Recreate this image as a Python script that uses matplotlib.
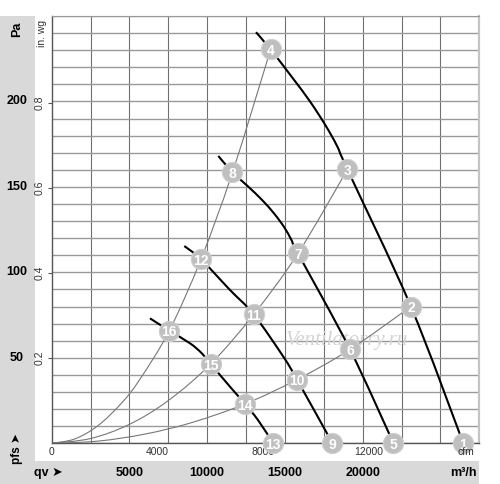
import matplotlib
matplotlib.use('Agg')
import matplotlib.pyplot as plt
from matplotlib.patches import Rectangle, PathPatch
from matplotlib.path import Path
from matplotlib.ticker import MultipleLocator
from matplotlib.transforms import blended_transform_factory

plt.rcParams['font.family'] = ['Liberation Sans', 'DejaVu Sans']

M3H_PER_CFM = 1.699
PA_PER_INWG = 249.09

# fan curves, one per speed (qv in m3/h, pfs in Pa)
fan1_q = [13140, 14080, 15537, 16611, 17576, 18348, 19020, 23100, 26470]
fan1_p = [240.5, 230.4, 213.2, 200.0, 186.5, 174.0, 160.2, 80.0, 0]

fan2_q = [10714, 11627, 12624, 13524, 14296, 14939, 15422, 15840, 19184, 21981]
fan2_p = [168.1, 158.6, 150.3, 142.4, 134.5, 126.6, 118.9, 111.1, 54.9, 0]

fan3_q = [8527, 9601, 11466, 12991, 14894, 15775, 18058]
fan3_p = [115.4, 107.7, 89.7, 75.4, 50.7, 37.3, 0]

fan4_q = [6322, 7563, 8894, 9647, 10225, 11467, 12432, 13267, 14251]
fan4_p = [73.1, 65.9, 58.5, 52.7, 46.4, 33.1, 23.0, 13.6, 0]

# system curves through the origin
sys1_q = [0, 1500, 3000, 4500, 5660, 7563, 9600, 11630, 14080]
sys1_p = [0, 2.6, 10.5, 23.6, 37.3, 65.9, 107.7, 158.6, 230.4]

sys2_q = [0, 2500, 5000, 7500, 10225, 12990, 15840, 19020]
sys2_p = [0, 2.8, 11.1, 25.0, 46.4, 75.4, 111.1, 160.2]

sys3_q = [0, 3000, 6000, 9000, 12430, 15780, 19180, 23100]
sys3_p = [0, 1.3, 5.4, 12.1, 23.0, 37.3, 54.9, 80.0]

# numbered operating points
point_q = [26470, 23100, 19020, 14080, 21981, 19184, 15840, 11627,
           18058, 15775, 12991, 9601, 14251, 12432, 10225, 7563]
point_p = [0, 80.0, 160.2, 230.4, 0, 54.9, 111.1, 158.6,
           0, 37.3, 75.4, 107.7, 0, 23.0, 46.4, 65.9]

pa_ticks = [50, 100, 150, 200]
m3h_ticks = [5000, 10000, 15000, 20000]
inwg_ticks = [0.2, 0.4, 0.6, 0.8]
cfm_ticks = [0, 4000, 8000, 12000]


def smooth_line(ax, q, p, **kw):
    # Catmull-Rom through the read points, drawn as cubic Bezier segments
    verts = [(q[0], p[0])]
    codes = [Path.MOVETO]
    n = len(q)
    for i in range(n - 1):
        qa, pa = (q[i - 1], p[i - 1]) if i > 0 else (q[i], p[i])
        qd, pd = (q[i + 2], p[i + 2]) if i + 2 < n else (q[i + 1], p[i + 1])
        c1 = (q[i] + (q[i + 1] - qa) / 6, p[i] + (p[i + 1] - pa) / 6)
        c2 = (q[i + 1] - (qd - q[i]) / 6, p[i + 1] - (pd - p[i]) / 6)
        verts += [c1, c2, (q[i + 1], p[i + 1])]
        codes += [Path.CURVE4] * 3
    ax.add_patch(PathPatch(Path(verts, codes), fill=False, **kw))


fig = plt.figure(figsize=(5, 4.84), dpi=100)
fig.patches.append(Rectangle((0, 0), 0.07, 0.967, transform=fig.transFigure,
                             facecolor='#d9d9d9', edgecolor='none', zorder=-1))
fig.patches.append(Rectangle((0, 0), 0.9586, 0.0475, transform=fig.transFigure,
                             facecolor='#d9d9d9', edgecolor='none', zorder=-1))

ax = fig.add_axes([0.1034, 0.0841, 0.8552, 0.8829])
ax.set_xlim(0, 27500)
ax.set_ylim(0, 250)

# grid
ax.xaxis.set_minor_locator(MultipleLocator(2500))
ax.yaxis.set_minor_locator(MultipleLocator(10))
ax.xaxis.grid(True, which='minor', color='#707070', lw=0.8)
ax.yaxis.grid(True, which='minor', color='#999999', lw=1.0)
ax.tick_params(which='minor', length=0)
ax.set_axisbelow(True)

for s in ['left', 'bottom']:
    ax.spines[s].set_color('#555555')
    ax.spines[s].set_linewidth(1.0)
ax.spines['top'].set_color('#999999')
ax.spines['right'].set_color('#c4c4c4')
ax.spines['right'].set_linewidth(1.6)

# secondary units as the axis ticks
ax.set_xticks([c * M3H_PER_CFM for c in cfm_ticks])
ax.set_xticklabels([str(c) for c in cfm_ticks])
ax.set_yticks([w * PA_PER_INWG for w in inwg_ticks])
ax.set_yticklabels([str(w) for w in inwg_ticks], rotation=90, va='center')
ax.tick_params(axis='x', length=0, pad=3, labelsize=7.5, labelcolor='#333333')
ax.tick_params(axis='y', length=3, pad=2, labelsize=7.5, labelcolor='#333333', color='#555555')

# system curves
for q, p in [(sys1_q, sys1_p), (sys2_q, sys2_p), (sys3_q, sys3_p)]:
    smooth_line(ax, q, p, edgecolor='#777777', lw=0.8, zorder=3)

# fan curves
for q, p in [(fan1_q, fan1_p), (fan2_q, fan2_p), (fan3_q, fan3_p), (fan4_q, fan4_p)]:
    smooth_line(ax, q, p, edgecolor='black', lw=1.5, zorder=4)

# watermark
ax.text(18990, 59.9, 'Ventilatorry.ru', family='Liberation Serif', style='italic',
        fontsize=15, color='#d4d4d4', ha='center', va='center', zorder=2)

# numbered markers
ax.plot(point_q, point_p, 'o', ms=14.5, mfc='#bfbfbf', mec='#cfcfcf', mew=0.8,
        zorder=6, clip_on=False)
for i, (q, p) in enumerate(zip(point_q, point_p)):
    ax.text(q, p - 1.0, str(i + 1), color='white', fontsize=10, fontweight='bold',
            ha='center', va='center', zorder=7, clip_on=False)

# primary unit labels in the grey bands
ytr = blended_transform_factory(fig.transFigure, ax.transData)
for v in pa_ticks:
    ax.text(17 / 500, v, str(v), transform=ytr, fontsize=9, fontweight='bold',
            ha='center', va='center')
xtr = blended_transform_factory(ax.transData, fig.transFigure)
for v in m3h_ticks:
    ax.text(v, 1 - 473 / 484, str(v), transform=xtr, fontsize=9, fontweight='bold',
            ha='center', va='center')

fig.text(17 / 500, 1 - 29 / 484, 'Pa', rotation=90, fontsize=9, fontweight='bold',
         ha='center', va='center')
fig.text(17 / 500, 1 - 449 / 484, 'pfs ➤', rotation=90, fontsize=8.5, fontweight='bold',
         ha='center', va='center')
fig.text(48 / 500, 1 - 473 / 484, 'qv ➤', fontsize=9, fontweight='bold',
         ha='center', va='center')
fig.text(463 / 500, 1 - 473 / 484, 'm³/h', fontsize=9, fontweight='bold',
         ha='center', va='center')
fig.text(42 / 500, 1 - 33 / 484, 'in. wg', rotation=90, fontsize=7.5, color='#333333',
         ha='center', va='center')
fig.text(466 / 500, 1 - 452 / 484, 'cfm', fontsize=7.5, color='#333333',
         ha='center', va='center', zorder=0)

fig.savefig('out.png', dpi=100)
